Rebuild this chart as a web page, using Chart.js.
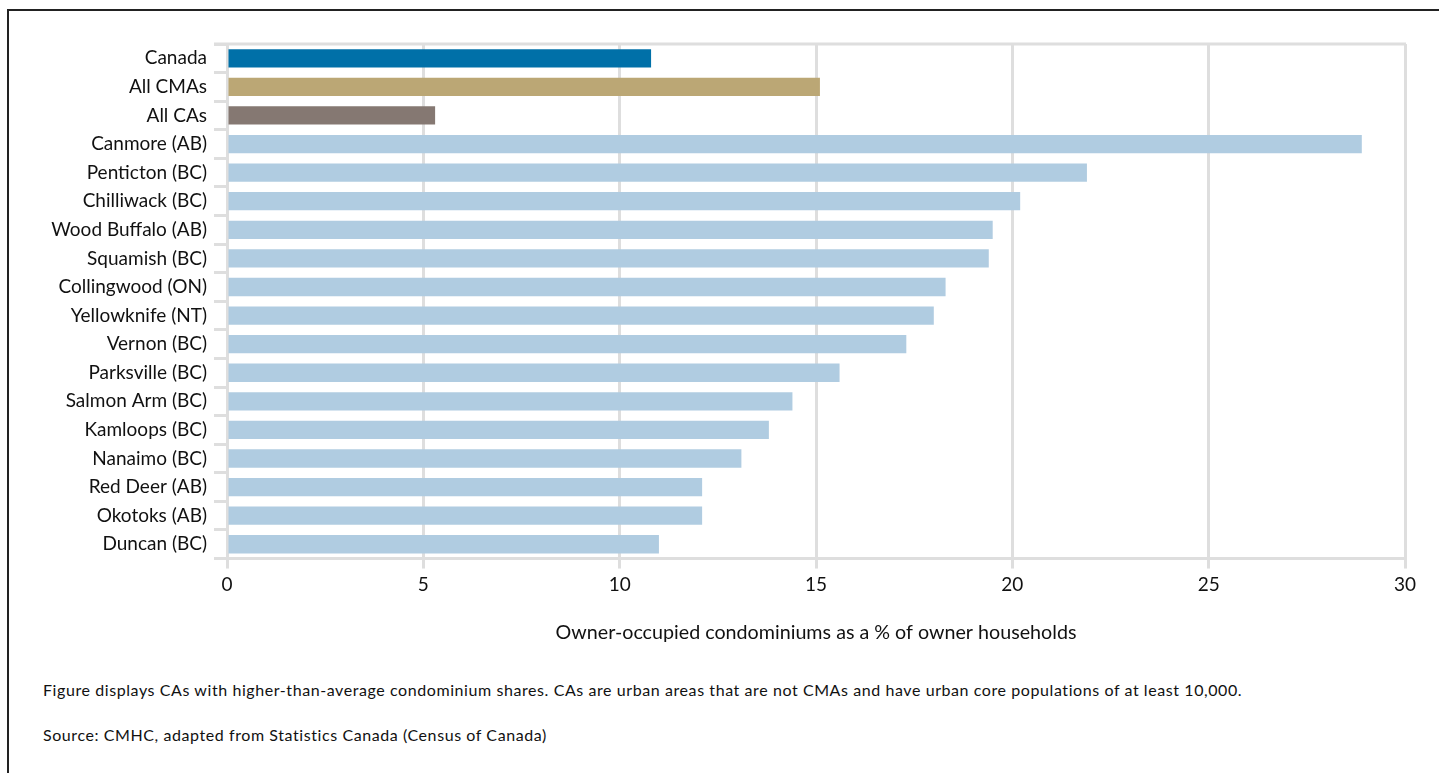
<!DOCTYPE html>
<html>
<head>
<meta charset="utf-8">
<script src="https://cdn.jsdelivr.net/npm/chart.js@4/dist/chart.umd.min.js"></script>
<style>
  body { margin: 0; background: #fff; width: 1439px; height: 773px; overflow: hidden; position: relative; font-family: Lato, sans-serif; }
  #frame { position: absolute; left: 7px; top: 9px; width: 1450px; height: 800px; border-left: 2px solid #222; border-top: 2px solid #222; }
  #wrap { position: absolute; left: 0; top: 0; width: 1439px; height: 660px; }
  .note { position: absolute; left: 43px; font-size: 16px; letter-spacing: 0.58px; color: #111; white-space: nowrap; }
</style>
</head>
<body>
<div id="frame"></div>
<div id="wrap"><canvas id="chart_canvas"></canvas></div>
<div class="note" style="top:680px">Figure displays CAs with higher-than-average condominium shares. CAs are urban areas that are not CMAs and have urban core populations of at least 10,000.</div>
<div class="note" style="top:725px">Source: CMHC, adapted from Statistics Canada (Census of Canada)</div>
<script>
var areas = ["Canada", "All CMAs", "All CAs", "Canmore (AB)", "Penticton (BC)", "Chilliwack (BC)",
    "Wood Buffalo (AB)", "Squamish (BC)", "Collingwood (ON)", "Yellowknife (NT)", "Vernon (BC)",
    "Parksville (BC)", "Salmon Arm (BC)", "Kamloops (BC)", "Nanaimo (BC)", "Red Deer (AB)",
    "Okotoks (AB)", "Duncan (BC)"];
var condoShare = [10.8, 15.1, 5.3, 28.9, 21.9, 20.2, 19.5, 19.4, 18.3, 18.0, 17.3, 15.6, 14.4, 13.8, 13.1, 12.1, 12.1, 11.0];
var xTicks = [0, 5, 10, 15, 20, 25, 30];

var barColors = areas.map(function(a, i) {
    if (i == 0) return "#0070a8";
    if (i == 1) return "#bba775";
    if (i == 2) return "#857872";
    return "#b0cce1";
});

// line along the top of the plot area
var topLine = {
    id: 'topLine',
    beforeDatasetsDraw: function(chart) {
        var ctx = chart.ctx, a = chart.chartArea;
        ctx.save();
        ctx.strokeStyle = "#dedede";
        ctx.lineWidth = 3;
        ctx.beginPath();
        ctx.moveTo(a.left - 13, a.top);
        ctx.lineTo(a.right + 1, a.top);
        ctx.stroke();
        ctx.restore();
    }
};

var context = document.getElementById("chart_canvas");
var chart = new Chart(context, {
    type: 'bar',
    data: {
        labels: areas,
        datasets: [{
            data: condoShare,
            backgroundColor: barColors,
            barPercentage: 0.64,
            categoryPercentage: 1.0
        }]
    },
    options: {
        indexAxis: 'y',
        responsive: true,
        maintainAspectRatio: false,
        animation: false,
        layout: { padding: { top: 44, right: 34, bottom: 16, left: 0 } },
        plugins: { legend: { display: false }, tooltip: { enabled: false } },
        scales: {
            x: {
                min: 0,
                max: 30,
                afterBuildTicks: function(scale) {
                    scale.ticks = xTicks.map(function(v) { return { value: v }; });
                },
                grid: { color: "#dedede", lineWidth: 3, tickLength: 10 },
                border: { color: "#dedede", width: 3 },
                ticks: { color: "#111", font: { family: "Lato", size: 19 }, padding: 5 },
                title: {
                    display: true,
                    text: "Owner-occupied condominiums as a % of owner households",
                    color: "#111",
                    font: { family: "Lato", size: 19.7 },
                    padding: { top: 19, bottom: 0 }
                }
            },
            y: {
                afterFit: function(scale) { scale.width = 227; },
                grid: { offset: true, drawOnChartArea: false, color: "#dedede", lineWidth: 3, tickLength: 13 },
                border: { display: false },
                ticks: { color: "#111", font: { family: "Lato", size: 19 }, padding: 7 }
            }
        }
    },
    plugins: [topLine]
});
</script>
</body>
</html>
